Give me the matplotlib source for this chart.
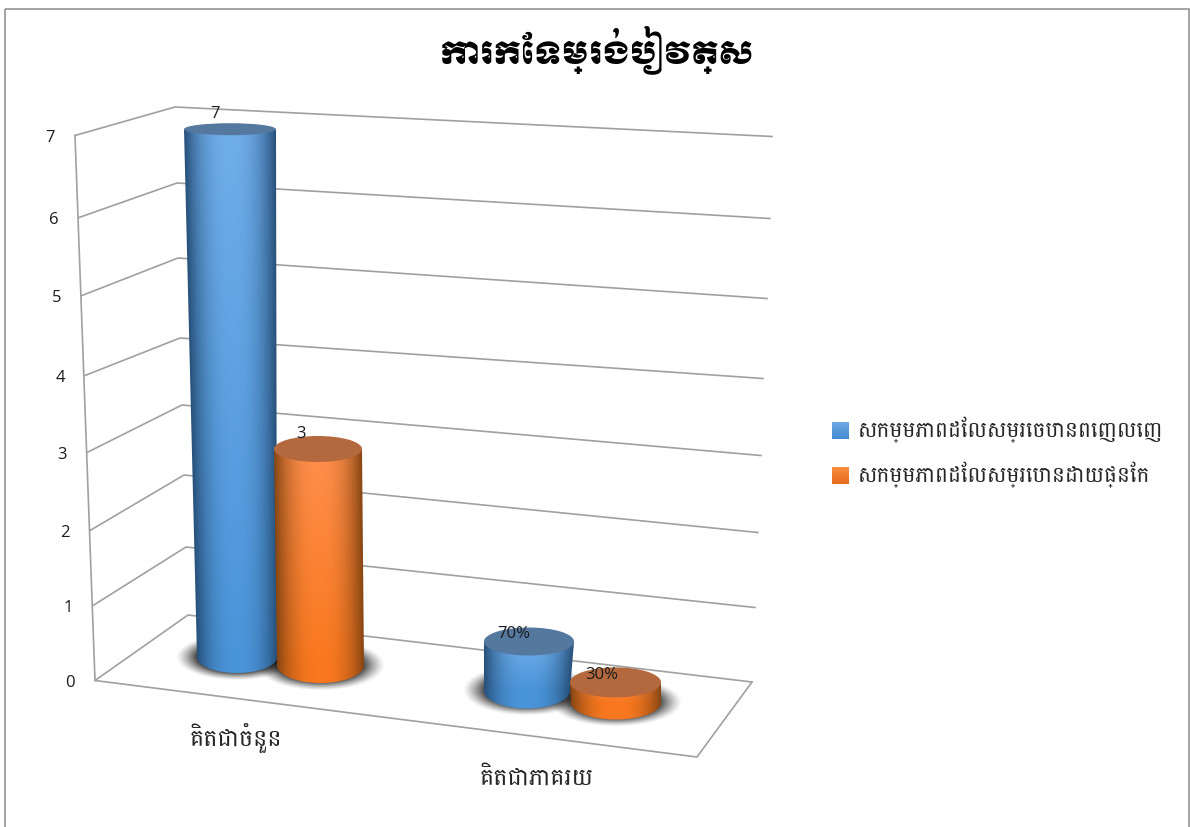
import numpy as np
import matplotlib
matplotlib.use('Agg')
import matplotlib.pyplot as plt
from matplotlib.patches import Ellipse, Rectangle

title = 'ការកែទម្រង់បៀវត្ស'
categories = ['គិតជាចំនួន', 'គិតជាភាគរយ']
series_names = ['សកម្មភាពដែលសម្រេចបានពេញលេញ', 'សកម្មភាពដែលសម្រេបានដោយផ្នែក']
full_values = [7, 0.7]
partial_values = [3, 0.3]
full_labels = ['7', '70%']
partial_labels = ['3', '30%']
y_ticks = [0, 1, 2, 3, 4, 5, 6, 7]

BODY_FONT = 'Battambang'
NUM_FONT = 'Open Sans'
GRID = '#a0a0a0'

# picture is laid out in pixels, y going down
fig = plt.figure(figsize=(11.9, 8.28), dpi=100)
ax = fig.add_axes([0, 0, 1, 1])
ax.axis('off')

# where each axis level sits on the three wall edges (perspective, so not even)
front_x = [95, 93, 90, 87, 85, 82, 79, 75]
front_y = [681.5, 606.5, 531.5, 453.5, 376.5, 296.5, 218.5, 136.5]
back_x = [188, 186, 184, 182, 180, 178, 177, 175]
back_y = [616, 548, 476, 406, 339, 259, 184, 108]
right_x = [752, 755, 758, 761, 763, 767, 770, 772]
right_y = [683, 608.5, 533.5, 456.5, 379.5, 299.5, 219.5, 137.5]

ax.add_patch(Rectangle((4.5, 9.5), 1184.5, 900, fill=False, ec='#8c8c8c', lw=1.1))

# walls and floor
for i in y_ticks:
    ax.plot([front_x[i], back_x[i], right_x[i]], [front_y[i], back_y[i], right_y[i]],
            color=GRID, lw=1.2, zorder=1)
    ax.text(front_x[i] - 25, front_y[i] + 1.5, str(i), family=NUM_FONT, fontsize=12,
            ha='center', va='center', color='#1a1a1a')
ax.plot([front_x[7], front_x[0], 697, right_x[0]], [front_y[7], front_y[0], 758, right_y[0]],
        color=GRID, lw=1.2, zorder=1)

# shape of each cylinder on the page: base centre, radii, and pixels per unit of value
bar_shape = [
    dict(bx=237, by=658, brx=40, bry=16, tx=230, trx=46, try_=6, unit=75.4),
    dict(bx=320.5, by=666, brx=43.5, bry=18, tx=318, trx=44, try_=13, unit=72),
    dict(bx=527, by=691.5, brx=43, bry=18, tx=529, trx=45, try_=14, unit=70),
    dict(bx=616, by=703.5, brx=45, bry=17, tx=615.5, trx=45.5, try_=15, unit=67),
]
blue = dict(light=np.array([0.44, 0.68, 0.92]), mid=np.array([0.29, 0.58, 0.85]),
            edge=np.array([0.15, 0.31, 0.47]), cap='#55789f')
orange = dict(light=np.array([1.0, 0.56, 0.30]), mid=np.array([0.98, 0.47, 0.12]),
              edge=np.array([0.52, 0.27, 0.07]), cap='#b3683d')


def draw_shadow(bx, by, rx, ry):
    xs = np.linspace(bx - rx - 25, bx + rx + 25, 160)
    ys = np.linspace(by - ry - 14, by + ry + 14, 80)
    xx, yy = np.meshgrid(xs, ys)
    d = np.sqrt(((xx - bx) / (rx + 17)) ** 2 + ((yy - by) / (ry + 6)) ** 2)
    img = np.zeros(xx.shape + (4,))
    img[..., 3] = np.clip((1.08 - d) / 0.42, 0, 1) ** 1.3 * 0.85
    ax.imshow(img, extent=(xs[0], xs[-1], ys[-1], ys[0]), aspect='auto', zorder=2,
              interpolation='bilinear')


def draw_cylinder(value, s, style, z):
    top_y = s['by'] - value * s['unit']
    x0 = int(min(s['tx'] - s['trx'], s['bx'] - s['brx'])) - 2
    x1 = int(max(s['tx'] + s['trx'], s['bx'] + s['brx'])) + 3
    y0 = int(top_y) - 1
    y1 = int(s['by'] + s['bry']) + 3
    xx, yy = np.meshgrid(np.arange(x0, x1) + 0.5, np.arange(y0, y1) + 0.5)
    t = np.clip((yy - top_y) / (s['by'] - top_y), 0, 1)
    cx = s['tx'] + (s['bx'] - s['tx']) * t
    rx = s['trx'] + (s['brx'] - s['trx']) * t
    u = np.clip((xx - cx) / rx, -1, 1)
    # bright down the middle, dark at both sides, a bit deeper toward the floor
    shade = np.abs(u) ** 2.4
    img = np.zeros(xx.shape + (4,))
    for k in range(3):
        centre = style['light'][k] + (style['mid'][k] - style['light'][k]) * t
        img[..., k] = centre + (style['edge'][k] - centre) * shade
    # soft coverage along the sides and the round bottom edge
    bottom = s['by'] + s['bry'] * np.sqrt(1 - u ** 2)
    side = np.clip(rx - np.abs(xx - cx) + 0.5, 0, 1)
    img[..., 3] = side * np.clip(bottom - yy + 0.5, 0, 1) * np.clip(yy - top_y + 0.5, 0, 1)
    ax.imshow(img, extent=(x0, x1, y1, y0), aspect='auto', zorder=z, interpolation='nearest')
    ax.add_patch(Ellipse((s['tx'], top_y), 2 * s['trx'], 2 * s['try_'], fc=style['cap'],
                         ec='none', zorder=z + 0.1))
    return s['tx'], top_y


values = [full_values[0], partial_values[0], full_values[1], partial_values[1]]
styles = [blue, orange, blue, orange]
labels = [full_labels[0], partial_labels[0], full_labels[1], partial_labels[1]]
label_off = [(-15, -16), (-17, -16), (-15, -8), (-14, -8)]

for s in bar_shape:
    draw_shadow(s['bx'], s['by'], s['brx'], s['bry'])
for i, (v, s, st) in enumerate(zip(values, bar_shape, styles)):
    tx, ty = draw_cylinder(v, s, st, 3 + i)
    ax.text(tx + label_off[i][0], ty + label_off[i][1], labels[i], family=NUM_FONT, fontsize=12,
            ha='center', va='center', color='#1a1a1a', zorder=10)

# category labels
ax.text(235.5, 738, categories[0], family=BODY_FONT, fontsize=17.2, ha='center', va='center',
        color='#262626')
ax.text(536, 778, categories[1], family=BODY_FONT, fontsize=17.2, ha='center', va='center',
        color='#262626')

# legend, swatches have a soft top to bottom gradient
legend_cols = [(np.array([0.42, 0.66, 0.89]), np.array([0.27, 0.55, 0.82])),
               (np.array([0.98, 0.55, 0.25]), np.array([0.90, 0.42, 0.12]))]
for i, (name, (c0, c1)) in enumerate(zip(series_names, legend_cols)):
    y0 = 423 + i * 45
    g = np.linspace(0, 1, 17)[:, None, None] * (c1 - c0) + c0
    ax.imshow(g, extent=(832, 849, y0 + 17, y0), aspect='auto', zorder=3)
    ax.text(858, y0 + 7, name, family=BODY_FONT, fontsize=15.7, ha='left', va='center',
            color='#262626')

ax.text(597.5, 51, title, family='Moul', fontsize=22.3, ha='center', va='center', color='black')

ax.set_xlim(0, 1190)
ax.set_ylim(828, 0)
fig.savefig('out.png', dpi=100)
